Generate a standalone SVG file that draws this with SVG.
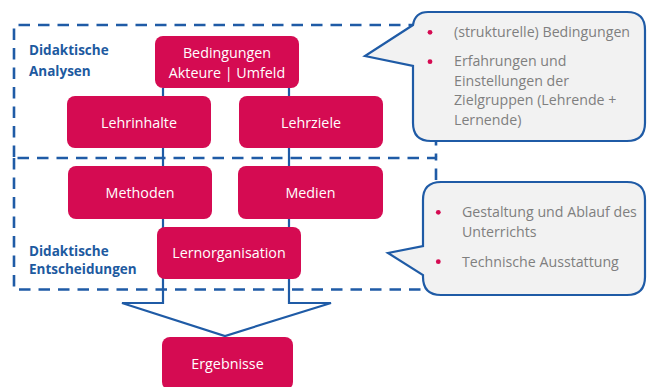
<svg xmlns="http://www.w3.org/2000/svg" width="647" height="387" viewBox="0 0 647 387">
<style>
.dash{fill:none;stroke:#1F5BA6;stroke-width:2.6;stroke-dasharray:11.5 8}
.conn{fill:none;stroke:#1F5BA6;stroke-width:2.2;stroke-linejoin:miter}
.node rect{fill:#D50B52}
.node text{font-family:"Open Sans","Noto Sans",sans-serif;font-size:14.3px;fill:#FFFFFF;text-anchor:middle}
.lbl{font-family:"Open Sans","Noto Sans",sans-serif;font-size:13.5px;font-weight:bold;fill:#1D5AA0}
.call path{fill:#F2F2F2;stroke:#1F5BA6;stroke-width:2.2}
.call circle{fill:#D50B52}
.call text{font-family:"Open Sans","Noto Sans",sans-serif;font-size:14.2px;fill:#7F7F7F}
</style>
<rect width="647" height="387" fill="#FFFFFF"/>
<g id="frames">
<path class="dash" d="M14,157 V25 H436 V157"/>
<path class="dash" d="M14,158 V289.5 H436 V158 H14"/>
</g>
<g id="labels">
<text class="lbl" x="29" y="54.5">Didaktische</text>
<text class="lbl" x="29" y="75.5">Analysen</text>
<text class="lbl" x="29" y="255.5">Didaktische</text>
<text class="lbl" x="29" y="274">Entscheidungen</text>
</g>
<g id="connectors">
<path class="conn" d="M163,88 V303 H122 L225,336 L331,303 H289 V88"/>
</g>
<g id="bedingungen" class="node">
<rect x="155" y="36" width="144" height="52" rx="8"/>
<text x="227" y="58">Bedingungen</text>
<text x="227" y="78">Akteure | Umfeld</text>
</g>
<g id="lehrinhalte" class="node">
<rect x="67" y="96" width="144" height="52" rx="8"/>
<text x="139" y="127.5">Lehrinhalte</text>
</g>
<g id="lehrziele" class="node">
<rect x="239" y="96" width="144" height="52" rx="8"/>
<text x="311" y="127.5">Lehrziele</text>
</g>
<g id="methoden" class="node">
<rect x="68" y="166" width="144" height="53" rx="8"/>
<text x="140" y="198">Methoden</text>
</g>
<g id="medien" class="node">
<rect x="238" y="166" width="145" height="53" rx="8"/>
<text x="310.5" y="198">Medien</text>
</g>
<g id="lernorganisation" class="node">
<rect x="157" y="227" width="144" height="52" rx="8"/>
<text x="229" y="258">Lernorganisation</text>
</g>
<g id="ergebnisse" class="node">
<rect x="162" y="337" width="131" height="53" rx="8"/>
<text x="227.5" y="368.5">Ergebnisse</text>
</g>
<g id="callout-analysen" class="call">
<path d="M428,12 H627 Q645,12 645,30 V123 Q645,141 627,141 H431 Q413,141 413,123 V66 L365,56 L413,25 Q415,12 428,12 Z"/>
<circle cx="430" cy="32.3" r="2.4"/>
<circle cx="430" cy="61.7" r="2.4"/>
<text x="454" y="37">(strukturelle) Bedingungen</text>
<text x="454" y="66">Erfahrungen und</text>
<text x="454" y="85.5">Einstellungen der</text>
<text x="454" y="105">Zielgruppen (Lehrende +</text>
<text x="454" y="124.5">Lernende)</text>
</g>
<g id="callout-entscheidungen" class="call">
<path d="M441,182 H627 Q645,182 645,200 V277 Q645,295 627,295 H441 Q423,295 423,277 V275 L388,253 L423,246 V200 Q423,182 441,182 Z"/>
<circle cx="438.3" cy="212.3" r="2.4"/>
<circle cx="438.3" cy="261.7" r="2.4"/>
<text x="462" y="217">Gestaltung und Ablauf des</text>
<text x="462" y="236.7">Unterrichts</text>
<text x="462" y="267">Technische Ausstattung</text>
</g>
</svg>
